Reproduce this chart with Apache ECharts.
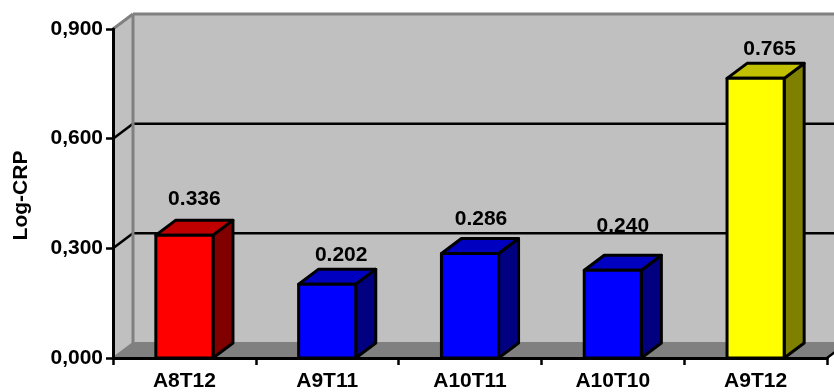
<!DOCTYPE html>
<html><head><meta charset="utf-8">
<style>html,body{margin:0;padding:0;background:#fff}#c{width:834px;height:392px}</style>
<script src="https://cdn.jsdelivr.net/npm/echarts@6/dist/echarts.min.js"></script>
</head><body><div id="c"></div>
<script>
const categories = ['A8T12','A9T11','A10T11','A10T10','A9T12'];
const values = [0.336,0.202,0.286,0.240,0.765];
const yTicks = [0.3,0.6];
const frontColors = ['#ff0000','#0000ff','#0000ff','#0000ff','#ffff00'];
const sideColors  = ['#800000','#000080','#000080','#000080','#808000'];
const topColors   = ['#c00000','#0000c0','#0000c0','#0000c0','#c0c000'];
const labelLift = [36,29,34,44,29];
const labelShift = [0,4,1,0,4];
const DX = 20, DY = 15, FONT = 'bold 21px "Liberation Sans", Arial, sans-serif';
const chart = echarts.init(document.getElementById('c'));
function poly(points, fill, stroke, lw){
  return {type:'polygon',shape:{points},style:{fill,stroke:stroke||'none',lineWidth:lw||0,lineJoin:'round'}};
}
function line(a,b,stroke,lw){
  return {type:'line',shape:{x1:a[0],y1:a[1],x2:b[0],y2:b[1]},style:{stroke,lineWidth:lw}};
}
function renderWalls(params, api){
  const w = api.size([1,0])[0];
  const x0 = api.coord([0,0])[0]-w/2, x1 = api.coord([categories.length-1,0])[0]+w/2;
  const yb = api.coord([0,0])[1], yt = api.coord([0,0.9])[1];
  const ch = [];
  ch.push(poly([[x0,yb],[x0+DX,yb-DY],[x0+DX,yt-DY],[x0,yt]],'#c0c0c0'));
  ch.push(poly([[x0+DX,yb-DY],[x1+DX,yb-DY],[x1+DX,yt-DY],[x0+DX,yt-DY]],'#c0c0c0'));
  ch.push(poly([[x0,yb],[x1,yb],[x1+DX,yb-DY],[x0+DX,yb-DY]],'#808080'));
  yTicks.forEach(v=>{
    const y = api.coord([0,v])[1];
    ch.push(line([x0,y],[x0+DX,y-DY],'#000',2.5));
    ch.push(line([x0+DX,y-DY],[x1+DX,y-DY],'#000',2.5));
  });
  ch.push(line([x0,yt],[x0+DX,yt-DY],'#808080',3));
  ch.push(line([x0+DX,yt-DY],[x1+DX,yt-DY],'#808080',3));
  ch.push(line([x0+DX,yt-DY],[x0+DX,yb-DY],'#808080',3));
  ch.push(line([x0+DX,yb-DY],[x1+DX,yb-DY],'#808080',2));
  ch.push(line([x0,yb],[x0+DX,yb-DY],'#808080',2));
  ch.push(line([x1,yb],[x1+DX,yb-DY],'#000',2.5));
  return {type:'group',children:ch};
}
function renderBar(params, api){
  const i = api.value(0), v = api.value(1);
  const c = api.coord([i,v]), b = api.coord([i,0]);
  const bw = api.size([1,0])[0]*0.4;
  const l=c[0]-bw/2, r=c[0]+bw/2, t=c[1], y0=b[1];
  const k=params.dataIndex;
  const ch = [
    poly([[r,y0],[r+DX,y0-DY],[r+DX,t-DY],[r,t]],sideColors[k],'#000',3),
    poly([[l,t],[r,t],[r+DX,t-DY],[l+DX,t-DY]],topColors[k],'#000',3),
    poly([[l,y0],[r,y0],[r,t],[l,t]],frontColors[k],'#000',3),
    {type:'text',style:{text:v.toFixed(3),x:c[0]+DX/2+labelShift[k],y:t-labelLift[k],align:'center',verticalAlign:'middle',fill:'#000',font:FONT}}
  ];
  return {type:'group',children:ch};
}
chart.setOption({
  animation:false,
  backgroundColor:'#fff',
  grid:{left:113,right:7,top:29,bottom:34,containLabel:false,outerBoundsMode:'none'},
  xAxis:{type:'category',data:categories,z:5,
    axisLine:{lineStyle:{color:'#000',width:3}},
    axisTick:{show:true,length:7,alignWithLabel:false,lineStyle:{color:'#000',width:2.5}},
    axisLabel:{color:'#000',fontWeight:'bold',fontSize:21,fontFamily:'Liberation Sans',margin:13,interval:0},
    splitLine:{show:false}},
  yAxis:{type:'value',min:0,max:0.9,interval:0.3,z:5,
    name:'Log-CRP',nameLocation:'middle',nameGap:81,nameRotate:90,
    nameTextStyle:{color:'#000',fontWeight:'bold',fontSize:21,fontFamily:'Liberation Sans',padding:[0,4,0,0]},
    axisLine:{show:true,lineStyle:{color:'#000',width:3}},
    axisTick:{show:true,length:7,lineStyle:{color:'#000',width:2.5}},
    axisLabel:{color:'#000',fontWeight:'bold',fontSize:21,fontFamily:'Liberation Sans',margin:10,verticalAlign:'middle',
      formatter:v=>v.toFixed(3).replace('.',','),padding:[3,0,0,0]},
    splitLine:{show:false}},
  series:[
    {type:'custom',z:1,clip:false,silent:true,renderItem:renderWalls,data:[[0,0]],encode:{x:0,y:1}},
    {type:'custom',z:2,clip:false,silent:true,renderItem:renderBar,
     data:values.map((v,i)=>[i,v]),encode:{x:0,y:1}}
  ]
});
</script></body></html>
